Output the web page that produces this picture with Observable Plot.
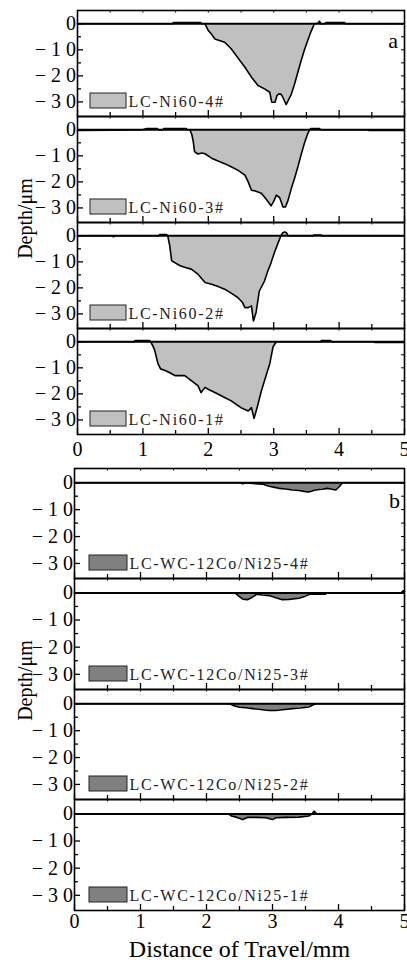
<!DOCTYPE html>
<html><head><meta charset="utf-8">
<script src="https://cdn.jsdelivr.net/npm/d3@7"></script>
<script src="https://cdn.jsdelivr.net/npm/@observablehq/plot@0.6"></script>
<style>
body{margin:0;background:#fff;}
#fig{position:relative;width:407px;height:960px;overflow:hidden;background:#fff;}
#fig svg{position:absolute;left:0;overflow:visible;font-family:'Liberation Serif','Times New Roman',serif;}
#fig svg text{font-family:'Liberation Serif','Times New Roman',serif;}
#fig g[aria-label="y-axis tick label"] text{letter-spacing:5px;}
#fig g[aria-label="text"][font-size="16"] text{letter-spacing:1.7px;}
</style></head><body><div id="fig"></div>
<script>
// ---- tick values ----
const xTicks = [0, 1, 2, 3, 4, 5];
const xMinor = [0.5, 1.5, 2.5, 3.5, 4.5];
const yTicks = [-30, -20, -10, 0];
const yMinor = [-25, -15, -5];
const xTitle = "Distance of Travel/mm";
const yTitle = "Depth/\u03bcm";

// ---- series labels ----
const labelsA = ["LC-Ni60-4#", "LC-Ni60-3#", "LC-Ni60-2#", "LC-Ni60-1#"];
const labelsB = ["LC-WC-12Co/Ni25-4#", "LC-WC-12Co/Ni25-3#", "LC-WC-12Co/Ni25-2#", "LC-WC-12Co/Ni25-1#"];

// ---- profiles [distance mm, depth um] ----
const ni60_4 = [[0,0],[1.45,0],[1.47,0.5],[1.88,0.5],[1.90,0],[1.95,0],[2.00,-2.6],[2.05,-4],[2.10,-5.8],[2.18,-6.5],[2.25,-7.1],[2.35,-9.6],[2.45,-13],[2.56,-16.7],[2.66,-20.5],[2.76,-23.7],[2.86,-25],[2.94,-26.3],[2.97,-30.1],[3.02,-30.1],[3.05,-27.5],[3.08,-26.9],[3.11,-27],[3.14,-28.2],[3.19,-31],[3.23,-29],[3.27,-27],[3.32,-23],[3.37,-18.5],[3.42,-14.1],[3.47,-10],[3.52,-6.4],[3.57,-3],[3.60,-1.3],[3.62,0],[3.68,0.2],[3.70,1],[3.72,0],[3.78,0],[3.80,0.5],[4.08,0.5],[4.10,0],[5,0]];
const ni60_3 = [[0,-0.3],[0.5,-0.2],[1.0,0],[1.06,0.5],[1.22,0.5],[1.24,0],[1.31,0],[1.32,0.5],[1.66,0.5],[1.68,0],[1.72,0],[1.75,-2],[1.77,-4.5],[1.79,-8.4],[1.84,-9.3],[1.90,-8.9],[1.95,-9.2],[2.05,-10.9],[2.15,-12],[2.25,-13],[2.35,-14.2],[2.45,-15.5],[2.56,-17.4],[2.61,-20],[2.66,-23.2],[2.72,-23.5],[2.81,-24.4],[2.88,-26.5],[2.96,-29.2],[3.00,-27.5],[3.04,-25.1],[3.09,-26],[3.12,-28],[3.14,-29.6],[3.18,-29.6],[3.22,-27],[3.27,-22.5],[3.32,-18.5],[3.37,-14.2],[3.42,-9.5],[3.47,-5.1],[3.52,-1.5],[3.55,0],[3.57,0.5],[3.70,0.5],[3.72,0],[4.44,0],[4.46,-0.3],[5,-0.3]];
const ni60_2 = [[0,0],[0.52,0],[0.55,-0.4],[0.58,0],[1.24,0],[1.26,0.5],[1.36,0.5],[1.38,0],[1.41,-3.8],[1.44,-9.6],[1.50,-10.5],[1.57,-11.5],[1.65,-12.2],[1.74,-12.8],[1.84,-14.7],[1.90,-16.5],[1.95,-17.9],[2.05,-18.6],[2.15,-19.5],[2.25,-20.5],[2.35,-22],[2.45,-23.7],[2.52,-25.5],[2.56,-27.6],[2.61,-27.6],[2.66,-26.9],[2.69,-32.7],[2.73,-29.5],[2.78,-21.2],[2.86,-17.3],[2.91,-13.5],[2.96,-10.3],[3.01,-6.5],[3.06,-3.2],[3.11,0],[3.14,1.2],[3.17,1.5],[3.20,1],[3.22,0],[3.60,0],[3.62,0.3],[3.72,0.3],[3.74,0],[5,0]];
const ni60_1 = [[0,0],[0.87,0],[0.88,0.5],[1.10,0.5],[1.12,0],[1.15,-1.5],[1.18,-3.2],[1.23,-8.4],[1.27,-10.4],[1.34,-11],[1.42,-12],[1.49,-13],[1.64,-13],[1.74,-14.9],[1.84,-16.8],[1.89,-19.5],[1.95,-17.5],[2.02,-18.5],[2.10,-19.5],[2.25,-21.4],[2.35,-22.7],[2.50,-25.3],[2.61,-26.6],[2.66,-25.3],[2.70,-29.4],[2.76,-24],[2.81,-19],[2.86,-14.9],[2.94,-8.4],[2.99,-1.9],[3.04,0],[3.72,0],[3.73,0.5],[3.87,0.5],[3.88,0],[4.53,0],[4.55,-0.3],[5,-0.3]];
const wc_4 = [[0,0],[2.52,0],[2.55,-0.4],[2.58,0],[2.70,-0.3],[2.85,-0.5],[2.90,-0.9],[2.95,-1.3],[3.05,-1.8],[3.10,-2.1],[3.20,-2.3],[3.30,-2.7],[3.40,-2.9],[3.50,-3.3],[3.55,-3.4],[3.65,-2.7],[3.75,-2.4],[3.83,-2.1],[3.90,-2.4],[3.96,-2.7],[4.01,-1.5],[4.06,0],[5,0]];
const wc_3 = [[0,0],[2.43,0],[2.48,-1],[2.55,-2.3],[2.62,-2.5],[2.70,-1.5],[2.76,-0.5],[2.85,-0.8],[2.95,-1],[3.05,-1.8],[3.15,-2.5],[3.25,-2.4],[3.40,-2],[3.50,-1.2],[3.56,-0.5],[3.80,-0.5],[3.82,0],[4.95,0],[4.98,0.8],[5,0.5]];
const wc_2 = [[0,0],[2.35,0],[2.40,-0.6],[2.50,-1.3],[2.60,-1.5],[2.70,-1.8],[2.85,-2.2],[2.95,-2.5],[3.05,-2.5],[3.15,-2.2],[3.30,-1.8],[3.42,-1.6],[3.55,-1.2],[3.65,0],[5,0]];
const wc_1 = [[0,0],[2.33,0],[2.38,-0.8],[2.45,-1.2],[2.55,-2.1],[2.62,-1.3],[2.75,-1.3],[2.90,-1.4],[3.00,-2.1],[3.05,-1.4],[3.20,-1.3],[3.40,-1.2],[3.55,-0.8],[3.60,0],[3.63,1],[3.67,0],[5,0]];

const FONT = "'Liberation Serif','Times New Roman',serif";
const W = 407;
const fig = document.getElementById("fig");

function swatch(fill, offL, offB, w, h) {
  return (index, scales, values, dims) => {
    const r = d3.create("svg:rect")
      .attr("x", dims.marginLeft + offL)
      .attr("y", dims.height - dims.marginBottom - offB - h)
      .attr("width", w).attr("height", h)
      .attr("fill", fill).attr("stroke", "#222").attr("stroke-width", 1);
    return r.node();
  };
}

function panel(o) {
  const {data, label, fill, top, h, ml, mb, yDomain, extra = [], xAxis = null} = o;
  const mr = 3;
  const iw = W - ml - mr;
  const acc = {x: d => d[0], y: d => d[1]};
  const marks = [
    Plot.areaY(data, {...acc, fill}),
    Plot.ruleY([0], {stroke: "black", strokeWidth: 2}),
    Plot.line(data, {...acc, stroke: "black", strokeWidth: 1.6}),
    Plot.tickX(xTicks, {x: d => d, insetTop: h - 6, strokeWidth: 1.3}),
    Plot.tickX(xMinor, {x: d => d, insetTop: h - 4, strokeWidth: 1.3}),
    Plot.tickX(xTicks.concat(xMinor), {x: d => d, insetBottom: h - 2.5, strokeWidth: 1}),
    Plot.tickY(yTicks, {y: d => d, insetRight: iw - 6, strokeWidth: 1.3}),
    Plot.tickY(yMinor, {y: d => d, insetRight: iw - 4, strokeWidth: 1.3}),
    Plot.tickY(yTicks.concat(yMinor), {y: d => d, insetLeft: iw - 3, strokeWidth: 1}),
    Plot.frame({stroke: "black", strokeWidth: 1.6}),
    Plot.axisY(yTicks, {tickSize: 0, tickPadding: -3.5, fontSize: 20, label: null}),
    swatch(fill, o.legL, 8, o.legW, 15),
    Plot.text([label], {frameAnchor: "bottom-left", dx: o.legL + o.legW + 2, dy: -10, text: d => d,
      textAnchor: "start", lineAnchor: "bottom", fontSize: 16, fill: "#222"}),
    ...extra
  ];
  if (xAxis) marks.push(Plot.axisX(xTicks, {tickSize: 0, tickPadding: xAxis, fontSize: 20, label: null}));
  const svg = Plot.plot({
    width: W, height: h + mb,
    marginLeft: ml, marginRight: mr, marginTop: 0, marginBottom: mb,
    style: `font-family:${FONT};color:black;background:transparent;overflow:visible;`,
    x: {domain: [0, 5], axis: null},
    y: {domain: yDomain, axis: null},
    marks
  });
  svg.style.top = top + "px";
  fig.appendChild(svg);
}

const domA = [-35.6, 5.1];
const domB = [-35.6, 5.3];
const seriesA = [ni60_4, ni60_3, ni60_2, ni60_1];
const seriesB = [wc_4, wc_3, wc_2, wc_1];
const topsA = [10, 116, 222, 328];
const topsB = [468, 578, 689, 799];
const hA = [106, 106, 106, 106];
const hB = [110, 111, 110, 111];

seriesA.forEach((data, i) => {
  const extra = [];
  if (i === 0) extra.push(Plot.text(["a"], {frameAnchor: "top-right", dx: -11.5, dy: 37, text: d => d,
    textAnchor: "middle", lineAnchor: "bottom", fontSize: 22}));
  if (i === 1) extra.push(Plot.text([yTitle], {frameAnchor: "bottom-left", dx: 25 - 77, dy: -4, text: d => d,
    rotate: -90, textAnchor: "middle", lineAnchor: "middle", fontSize: 20}));
  panel({data, label: labelsA[i], fill: "#c0c0c0", top: topsA[i], h: hA[i], ml: 77,
    mb: i === 3 ? 28 : 0, yDomain: domA, legL: 13, legW: 36, extra, xAxis: i === 3 ? 7 : null});
});

seriesB.forEach((data, i) => {
  const extra = [];
  if (i === 0) extra.push(Plot.text(["b"], {frameAnchor: "top-right", dx: -10, dy: 39, text: d => d,
    textAnchor: "middle", lineAnchor: "bottom", fontSize: 22}));
  if (i === 1) extra.push(Plot.text([yTitle], {frameAnchor: "bottom-left", dx: 25 - 74, dy: -9, text: d => d,
    rotate: -90, textAnchor: "middle", lineAnchor: "middle", fontSize: 20}));
  if (i === 3) extra.push(Plot.text([xTitle], {frameAnchor: "bottom", dy: 46, text: d => d,
    textAnchor: "middle", lineAnchor: "bottom", fontSize: 24}));
  panel({data, label: labelsB[i], fill: "#808080", top: topsB[i], h: hB[i], ml: 74,
    mb: i === 3 ? 50 : 0, yDomain: domB, legL: 15, legW: 38, extra, xAxis: i === 3 ? 3 : null});
});
</script></body></html>
